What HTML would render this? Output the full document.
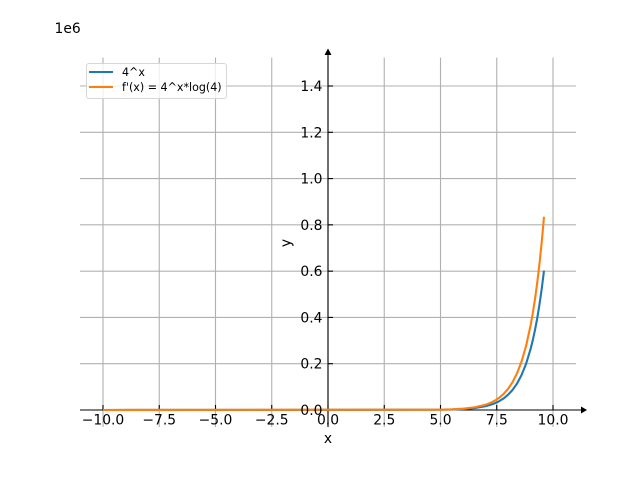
<!DOCTYPE html>
<html>
<head>
<meta charset="utf-8">
<style>
  html,body{margin:0;padding:0;background:#fff;}
  svg{display:block;}
  text{font-family:"DejaVu Sans","Liberation Sans",sans-serif;fill:#000;}
</style>
</head>
<body>
<svg width="640" height="480" viewBox="0 0 640 480" xmlns="http://www.w3.org/2000/svg">
  <rect x="0" y="0" width="640" height="480" fill="#fff"/>
  <!-- grid -->
  <g stroke="#b0b0b0" stroke-width="1.1" fill="none">
    <line x1="103" y1="57.6" x2="103" y2="427"/>
    <line x1="159.25" y1="57.6" x2="159.25" y2="427"/>
    <line x1="215.5" y1="57.6" x2="215.5" y2="427"/>
    <line x1="271.75" y1="57.6" x2="271.75" y2="427"/>
    <line x1="328" y1="57.6" x2="328" y2="427"/>
    <line x1="384.25" y1="57.6" x2="384.25" y2="427"/>
    <line x1="440.5" y1="57.6" x2="440.5" y2="427"/>
    <line x1="496.75" y1="57.6" x2="496.75" y2="427"/>
    <line x1="553" y1="57.6" x2="553" y2="427"/>
    <line x1="80" y1="410" x2="576" y2="410"/>
    <line x1="80" y1="363.71" x2="576" y2="363.71"/>
    <line x1="80" y1="317.43" x2="576" y2="317.43"/>
    <line x1="80" y1="271.14" x2="576" y2="271.14"/>
    <line x1="80" y1="224.86" x2="576" y2="224.86"/>
    <line x1="80" y1="178.57" x2="576" y2="178.57"/>
    <line x1="80" y1="132.29" x2="576" y2="132.29"/>
    <line x1="80" y1="86" x2="576" y2="86"/>
  </g>
  <!-- spines -->
  <g stroke="#000" stroke-width="1.1" fill="none">
    <line x1="80" y1="410" x2="582" y2="410"/>
    <line x1="328" y1="427" x2="328" y2="54"/>
  </g>
  <polygon points="581,406.5 587,410 581,413.5" fill="#000"/>
  <polygon points="324.5,55 328,48.5 331.5,55" fill="#000"/>
  <!-- ticks -->
  <g stroke="#000" stroke-width="1.1">
    <line x1="103" y1="410" x2="103" y2="405"/>
    <line x1="159.25" y1="410" x2="159.25" y2="405"/>
    <line x1="215.5" y1="410" x2="215.5" y2="405"/>
    <line x1="271.75" y1="410" x2="271.75" y2="405"/>
    <line x1="328" y1="410" x2="328" y2="405"/>
    <line x1="384.25" y1="410" x2="384.25" y2="405"/>
    <line x1="440.5" y1="410" x2="440.5" y2="405"/>
    <line x1="496.75" y1="410" x2="496.75" y2="405"/>
    <line x1="553" y1="410" x2="553" y2="405"/>
    <line x1="328" y1="410" x2="333" y2="410"/>
    <line x1="328" y1="363.71" x2="333" y2="363.71"/>
    <line x1="328" y1="317.43" x2="333" y2="317.43"/>
    <line x1="328" y1="271.14" x2="333" y2="271.14"/>
    <line x1="328" y1="224.86" x2="333" y2="224.86"/>
    <line x1="328" y1="178.57" x2="333" y2="178.57"/>
    <line x1="328" y1="132.29" x2="333" y2="132.29"/>
    <line x1="328" y1="86" x2="333" y2="86"/>
  </g>
  <!-- curves -->
  <polyline fill="none" stroke="#1f77b4" stroke-width="2.1" stroke-linejoin="round" stroke-linecap="butt"
    points="103,410 440.5,409.76 451.75,409.53 463,409.05 474.25,408.1 485.5,406.21 490,405 494.5,403.4 499,401.29 503.5,398.51 508,394.83 512.5,389.99 517,383.59 521.5,375.16 526,364.02 530.5,349.33 532.75,340.31 535,329.95 537.25,318.04 539.5,304.37 541.75,288.66 544,270.62"/>
  <polyline fill="none" stroke="#ff7f0e" stroke-width="2.1" stroke-linejoin="round" stroke-linecap="butt"
    points="103,410 440.5,409.67 451.75,409.34 463,408.68 474.25,407.37 485.5,404.75 490,403.07 494.5,400.85 499,397.93 503.5,394.07 508,388.97 512.5,382.26 517,373.39 521.5,361.7 526,346.26 530.5,325.89 532.75,313.39 535,299.03 537.25,282.52 539.5,263.57 541.75,241.79 544,216.78"/>
  <!-- x tick labels -->
  <g font-size="13.89" text-anchor="middle">
    <text x="103" y="424.5">−10.0</text>
    <text x="159.25" y="424.5">−7.5</text>
    <text x="215.5" y="424.5">−5.0</text>
    <text x="271.75" y="424.5">−2.5</text>
    <text x="328" y="424.5">0.0</text>
    <text x="384.25" y="424.5">2.5</text>
    <text x="440.5" y="424.5">5.0</text>
    <text x="496.75" y="424.5">7.5</text>
    <text x="553" y="424.5">10.0</text>
  </g>
  <!-- y tick labels -->
  <g font-size="13.89" text-anchor="end">
    <text x="322.5" y="415">0.0</text>
    <text x="322.5" y="368.7">0.2</text>
    <text x="322.5" y="322.4">0.4</text>
    <text x="322.5" y="276.1">0.6</text>
    <text x="322.5" y="229.9">0.8</text>
    <text x="322.5" y="183.6">1.0</text>
    <text x="322.5" y="137.3">1.2</text>
    <text x="322.5" y="91">1.4</text>
  </g>
  <text x="54.5" y="33" font-size="13.89">1e6</text>
  <text x="328" y="443" font-size="13.89" text-anchor="middle">x</text>
  <text transform="translate(290.5,243) rotate(-90)" font-size="13.89" text-anchor="middle">y</text>
  <!-- legend -->
  <rect x="86.5" y="63.5" width="140" height="35" rx="2.5" ry="2.5" fill="#fff" fill-opacity="0.8" stroke="#d6d6d6" stroke-width="1"/>
  <line x1="89" y1="72" x2="113" y2="72" stroke="#1f77b4" stroke-width="2.1"/>
  <line x1="89" y1="87" x2="113" y2="87" stroke="#ff7f0e" stroke-width="2.1"/>
  <text x="122" y="76" font-size="11.1">4^x</text>
  <text x="122" y="91" font-size="11.1">f'(x) = 4^x*log(4)</text>
</svg>
</body>
</html>
